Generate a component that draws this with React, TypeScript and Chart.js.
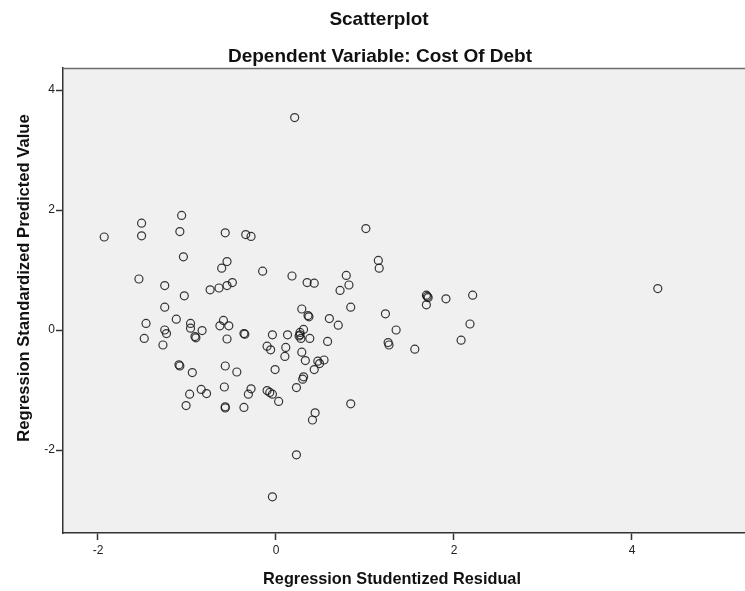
import React, { useEffect, useRef } from "react";
import { Chart, registerables } from "chart.js";

Chart.register(...registerables);

const TITLE = "Scatterplot";
const SUBTITLE = "Dependent Variable: Cost Of Debt";
const X_TITLE = "Regression Studentized Residual";
const Y_TITLE = "Regression Standardized Predicted Value";

const X_TICKS = [-2, 0, 2, 4];
const Y_TICKS = [-2, 0, 2, 4];

const RESIDUAL = [
  0.21, -1.93, -1.51, -1.51, -1.06, -1.08, -0.57, -0.34, -0.28, -1.04,
  -0.55, -0.61, -0.15, 0.18, -1.54, -1.25, -0.49, -0.55, -0.64, -0.74,
  -1.03, -1.25, -1.12, -1.46, -0.96, -0.59, -0.63, -0.53, -1.25, -1.23,
  -0.96, -0.83, -0.91, -0.9, -0.36, -0.35, -0.04, 0.13, -1.48, -0.55,
  -1.27, -0.1, -0.06, 0.11, 0.1, -1.09, -1.08, -0.94, -0.57, -0.44,
  -0.01, 0.23, -0.58, -0.28, -0.31, -0.84, -0.78, -0.97, -0.1, -0.07,
  -0.04, 0.03, -1.01, -0.57, -0.57, -0.36, 0.23, -0.04, 1.01, 1.15,
  1.16, 0.35, 0.43, 0.79, 0.82, 0.72, 0.84, 0.29, 0.36, 0.37,
  1.23, 0.6, 0.7, 1.35, 1.69, 1.7, 1.71, 1.69, 0.27, 0.31,
  0.26, 0.28, 0.38, 0.27, 0.58, 0.29, 0.33, 0.47, 0.54, 0.49,
  0.43, 0.31, 0.3, 1.26, 1.27, 1.56, 0.84, 0.44, 0.41, 1.91,
  2.21, 2.18, 2.08, 4.29,
];

const PREDICTED = [
  3.54, 1.55, 1.78, 1.57, 1.91, 1.64, 1.62, 1.59, 1.56, 1.22,
  1.14, 1.03, 0.98, 0.9, 0.85, 0.74, 0.79, 0.74, 0.7, 0.67,
  0.57, 0.38, 0.18, 0.11, 0.11, 0.16, 0.07, 0.07, 0.0, -0.06,
  0.03, -0.01, -0.11, -0.13, -0.06, -0.07, -0.08, -0.08, -0.14, -0.15,
  -0.25, -0.27, -0.33, -0.29, -0.44, -0.58, -0.6, -0.71, -0.6, -0.7,
  -0.66, -0.96, -0.95, -0.98, -1.07, -0.99, -1.06, -1.07, -1.01, -1.04,
  -1.07, -1.19, -1.26, -1.28, -1.3, -1.29, -2.08, -2.78, 1.69, 1.16,
  1.03, 0.79, 0.78, 0.91, 0.75, 0.66, 0.38, 0.35, 0.24, 0.22,
  0.27, 0.19, 0.08, 0.0, 0.58, 0.56, 0.54, 0.42, -0.04, 0.01,
  -0.1, -0.14, -0.14, -0.08, -0.19, -0.37, -0.51, -0.52, -0.5, -0.56,
  -0.66, -0.78, -0.82, -0.21, -0.25, -0.32, -1.23, -1.38, -1.5, 0.52,
  0.58, 0.1, -0.17, 0.69,
];

const X_MIN = -2.393;
const X_MAX = 5.27;
const Y_MIN = -3.383;
const Y_MAX = 4.367;

const TEXT_FONT = "Arial, 'Liberation Sans', sans-serif";
const TICK_FONT = "'Liberation Sans Narrow', 'Arial Narrow', 'Liberation Sans', sans-serif";

const decorPlugin = {
  id: "spssDecor",
  beforeDraw(chart: any) {
    const { ctx, chartArea } = chart;
    ctx.save();
    ctx.fillStyle = "#f0f0f0";
    ctx.fillRect(chartArea.left, chartArea.top, chartArea.right - chartArea.left, chartArea.bottom - chartArea.top);
    ctx.restore();
  },
  afterDraw(chart: any) {
    const { ctx, chartArea } = chart;
    ctx.save();
    ctx.strokeStyle = "#6e6e6e";
    ctx.lineWidth = 1.5;
    ctx.beginPath();
    ctx.moveTo(chartArea.left, chartArea.top + 0.5);
    ctx.lineTo(chartArea.right, chartArea.top + 0.5);
    ctx.stroke();

    ctx.fillStyle = "#111";
    ctx.textAlign = "center";
    ctx.textBaseline = "middle";
    ctx.font = `bold 19px ${TEXT_FONT}`;
    ctx.fillText(TITLE, 379, 20);
    ctx.fillText(SUBTITLE, 380, 57);
    ctx.font = `bold 16.3px ${TEXT_FONT}`;
    ctx.fillText(X_TITLE, 392, 580);
    ctx.font = `bold 16.6px ${TEXT_FONT}`;
    ctx.translate(24, 278);
    ctx.rotate(-Math.PI / 2);
    ctx.fillText(Y_TITLE, 0, 0);
    ctx.restore();
  },
};

export default function App() {
  const ref = useRef<HTMLCanvasElement | null>(null);

  useEffect(() => {
    document.body.style.margin = "0";
    if (!ref.current) return;
    const points = RESIDUAL.map((x, i) => ({ x, y: PREDICTED[i] }));
    const chart = new Chart(ref.current, {
      type: "scatter",
      data: {
        datasets: [
          {
            data: points,
            pointStyle: "circle",
            pointRadius: 4,
            pointBorderWidth: 1.2,
            borderColor: "rgba(20,20,20,0.85)",
            backgroundColor: "rgba(0,0,0,0)",
          },
        ],
      },
      options: {
        animation: false,
        responsive: false,
        maintainAspectRatio: false,
        layout: { autoPadding: false, padding: { top: 68, left: 0, right: 0, bottom: 0 } },
        plugins: {
          legend: { display: false },
          title: { display: false },
          tooltip: { enabled: false },
        },
        scales: {
          x: {
            type: "linear",
            min: X_MIN,
            max: X_MAX,
            afterBuildTicks: (scale: any) => {
              scale.ticks = X_TICKS.map((v) => ({ value: v }));
            },
            afterFit: (scale: any) => {
              scale.height = 58;
            },
            grid: {
              drawOnChartArea: false,
              drawTicks: true,
              tickLength: 7,
              tickWidth: 1.5,
              tickColor: "#333",
            },
            border: { display: true, color: "#333", width: 1.5 },
            ticks: {
              autoSkip: false,
              maxRotation: 0,
              padding: 3,
              color: "#222",
              font: { family: TICK_FONT, size: 12 },
              callback: (v: any) => String(v),
            },
          },
          y: {
            type: "linear",
            min: Y_MIN,
            max: Y_MAX,
            afterBuildTicks: (scale: any) => {
              scale.ticks = Y_TICKS.map((v) => ({ value: v }));
            },
            afterFit: (scale: any) => {
              scale.width = 63;
            },
            grid: {
              drawOnChartArea: false,
              drawTicks: true,
              tickLength: 7,
              tickWidth: 1.5,
              tickColor: "#333",
            },
            border: { display: true, color: "#333", width: 1.5 },
            ticks: {
              autoSkip: false,
              padding: 1,
              color: "#222",
              font: { family: TICK_FONT, size: 12 },
              callback: (v: any) => String(v),
            },
          },
        },
      },
      plugins: [decorPlugin],
    });
    return () => chart.destroy();
  }, []);

  return (
    <div style={{ position: "absolute", left: 0, top: 0, width: 745, height: 591 }}>
      <canvas ref={ref} width={745} height={591} style={{ width: 745, height: 591, display: "block" }} />
    </div>
  );
}
